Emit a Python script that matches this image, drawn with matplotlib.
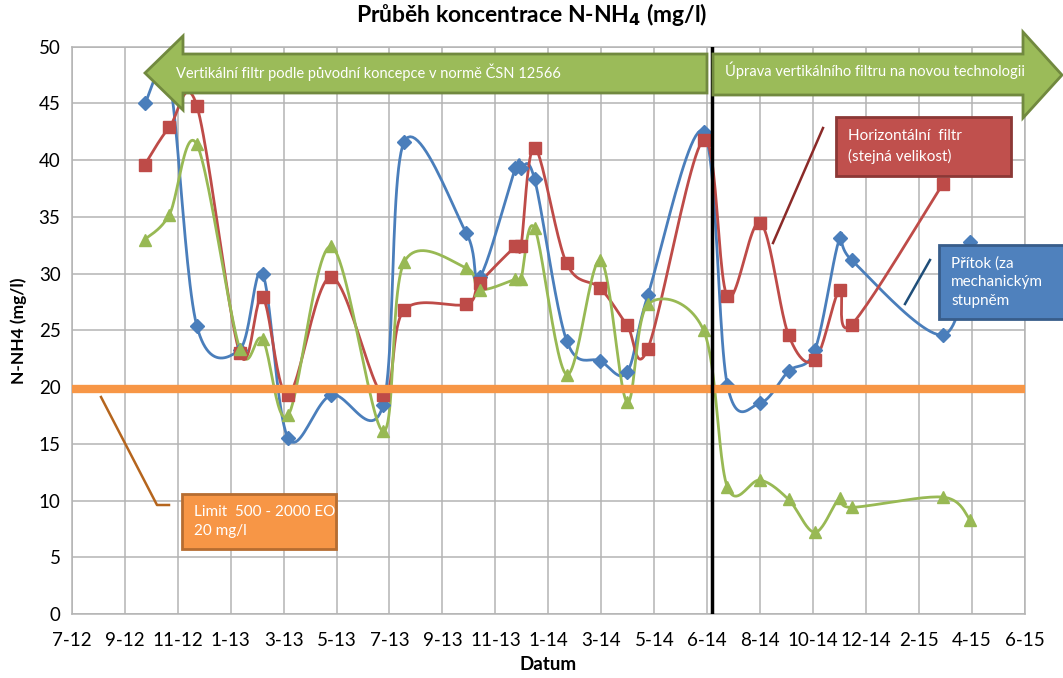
import numpy as np
import pandas as pd
import matplotlib
matplotlib.use('Agg')
import matplotlib.pyplot as plt
import matplotlib.dates as mdates
from matplotlib.patches import Polygon, Rectangle
from matplotlib.lines import Line2D

plt.rcParams['font.family'] = ['Lato', 'DejaVu Sans']

# sampling dates
dates = ['2012-10-19', '2012-11-15', '2012-12-15', '2013-01-31', '2013-02-25',
         '2013-03-25', '2013-05-11', '2013-07-07', '2013-07-30', '2013-10-06',
         '2013-10-21', '2013-11-29', '2013-12-05', '2013-12-20', '2014-01-24',
         '2014-03-02', '2014-03-31', '2014-04-23', '2014-06-23', '2014-07-19',
         '2014-08-24', '2014-09-24', '2014-10-23', '2014-11-19', '2014-12-02',
         '2015-03-12', '2015-04-11']

pritok = [45.0, 47.0, 25.4, 23.3, 30.0, 15.5, 19.3, 18.4, 41.6, 33.6, 29.7,
          39.3, 39.3, 38.3, 24.1, 22.3, 21.3, 28.1, 42.5, 20.2, 18.6, 21.4,
          23.3, 33.1, 31.2, 24.6, 32.8]
horizontal = [39.6, 42.9, 44.8, 23.0, 27.9, 19.3, 29.7, 19.3, 26.8, 27.3, 29.2,
              32.4, 32.4, 41.1, 30.9, 28.7, 25.5, 23.4, 41.8, 28.0, 34.5, 24.6,
              22.4, 28.6, 25.5, 37.9]
vertikal = [33.0, 35.2, 41.4, 23.4, 24.2, 17.5, 32.4, 16.1, 31.0, 30.5, 28.6,
            29.5, 29.5, 34.0, 21.1, 31.2, 18.7, 27.3, 25.0, 11.2, 11.8, 10.1,
            7.2, 10.2, 9.4, 10.3, 8.3]

limit = 19.8
change_date = '2014-07-02'
axis_start = '2012-07-31'
tick_step_days = 58
tick_labels = ['7-12', '9-12', '11-12', '1-13', '3-13', '5-13', '7-13', '9-13',
               '11-13', '1-14', '3-14', '5-14', '6-14', '8-14', '10-14', '12-14',
               '2-15', '4-15', '6-15']

W, H = 1063, 678


def smooth(x, y, n=25):
    # Excel-like smoothed line (cubic bezier through the points)
    pts = np.column_stack([x, y]).astype(float)
    out = []
    t = np.linspace(0, 1, n)[:, None]
    for i in range(len(pts) - 1):
        p0 = pts[i - 1] if i > 0 else pts[i]
        p1, p2 = pts[i], pts[i + 1]
        p3 = pts[i + 2] if i + 2 < len(pts) else pts[i + 1]
        c1 = p1 + (p2 - p0) / 6
        c2 = p2 - (p3 - p1) / 6
        seg = (1 - t)**3 * p1 + 3 * (1 - t)**2 * t * c1 + 3 * (1 - t) * t**2 * c2 + t**3 * p2
        out.append(seg if i == 0 else seg[1:])
    return np.vstack(out)


def px(x, y):
    return (x / W, 1 - y / H)


fig = plt.figure(figsize=(W / 100, H / 100), dpi=100)
ax = fig.add_axes([71.7 / W, 1 - 614 / H, (1025 - 71.7) / W, (614 - 46.7) / H])

xd = mdates.date2num(pd.to_datetime(dates))
x0 = mdates.date2num(pd.Timestamp(axis_start))
ticks = x0 + tick_step_days * np.arange(len(tick_labels))

series = [(pritok, '#4a7ebb', 'D', 7), (horizontal, '#be4b48', 's', 8),
          (vertikal, '#98b954', '^', 9)]
for vals, col, mk, ms in series:
    xs = xd[:len(vals)]
    curve = smooth(xs, vals)
    ax.plot(curve[:, 0], curve[:, 1], color=col, lw=2.0, zorder=3)
    ax.plot(xs, vals, ls='none', marker=mk, ms=ms, color=col, mec=col, zorder=4)

ax.axhline(limit, color='#f79646', lw=6, zorder=5)
ax.axvline(mdates.date2num(pd.Timestamp(change_date)), color='black', lw=2.5, zorder=6)

ax.set_xlim(ticks[0], ticks[-1])
ax.set_ylim(0, 50)
ax.set_xticks(ticks)
ax.set_xticklabels(tick_labels)
ax.set_yticks(np.arange(0, 51, 5))
ax.tick_params(axis='both', length=0, labelsize=13.5, pad=8)
ax.tick_params(axis='x', pad=13)
ax.grid(True, color='#b4b4b4', lw=1.1)
ax.set_axisbelow(True)
for s in ax.spines.values():
    s.set_color('#b4b4b4')
    s.set_linewidth(1.1)

ax.set_xlabel('Datum', fontsize=13.5, fontweight='bold', labelpad=5)
ax.set_ylabel('N-NH4 (mg/l)', fontsize=12.5, fontweight='bold', labelpad=8)
fig.text(0.5, 1 - 14 / H, r'Průběh koncentrace N-NH$_\mathbf{4}$ (mg/l)',
         ha='center', va='center', fontsize=16.5, fontweight='bold')

# green arrows
left_arrow = [(145, 73), (183, 36), (183, 54), (707, 54), (707, 93), (183, 93), (183, 110)]
right_arrow = [(713, 54), (1023, 54), (1023, 32), (1062, 75), (1023, 118), (1023, 95), (713, 95)]
for poly in (left_arrow, right_arrow):
    fig.patches.append(Polygon([px(*p) for p in poly], closed=True, fc='#9bbb59',
                               ec='#71893f', lw=2, transform=fig.transFigure, zorder=10))
fig.text(*px(176, 72), 'Vertikální filtr podle původní koncepce v normě ČSN 12566',
         color='white', fontsize=10.5, va='center', zorder=11)
fig.text(*px(725, 70), 'Úprava vertikálního filtru na novou technologii',
         color='white', fontsize=10.5, va='center', zorder=11)

# callout boxes
boxes = [((836, 117, 1011, 176), '#c0504d', '#8c3836', 'Horizontální  filtr\n(stejná velikost)',
          ((773, 243), (823, 128)), '#8b2a28'),
         ((939, 245, 1070, 319), '#4f81bd', '#385d8a', 'Přítok (za\nmechanickým\nstupněm',
          ((905, 304), (930, 260)), '#1f4e79'),
         ((182, 494, 336, 549), '#f79646', '#b66d31', 'Limit  500 - 2000 EO\n20 mg/l',
          ((101, 397), (157, 505), (169, 505)), '#b5651d')]
for (xa, ya, xb, yb), fc, ec, txt, lead, lc in boxes:
    bl = px(xa, yb)
    fig.patches.append(Rectangle(bl, (xb - xa) / W, (yb - ya) / H, fc=fc, ec=ec, lw=2,
                                 transform=fig.transFigure, zorder=10))
    fig.text(*px(xa + 12, (ya + yb) / 2), txt, color='white', fontsize=11,
             va='center', ha='left', linespacing=1.45, zorder=11)
    lx, ly = zip(*[px(*p) for p in lead])
    fig.lines.append(Line2D(lx, ly, color=lc, lw=1.8, transform=fig.transFigure, zorder=9))

fig.savefig('out.png', dpi=100)
